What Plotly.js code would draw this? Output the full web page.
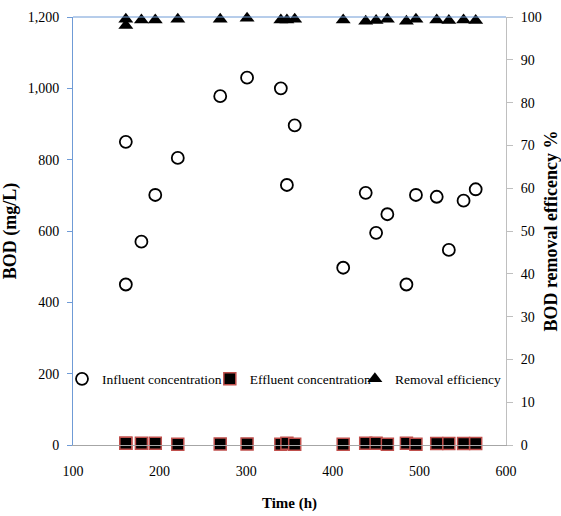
<!DOCTYPE html>
<html>
<head>
<meta charset="utf-8">
<script src="https://cdn.plot.ly/plotly-3.0.1.min.js"></script>
<style>html,body{margin:0;padding:0;background:#fff;}#chart{width:561px;height:516px;}</style>
</head>
<body>
<div id="chart"></div>
<script>
// Data
const timeH = [161, 161, 179, 195, 221, 270, 301, 340, 347, 356, 412, 438, 450, 463, 485, 496, 520, 534, 551, 565];
const influentBOD = [850, 450, 570, 701, 805, 978, 1030, 1000, 729, 896, 497, 707, 595, 647, 450, 701, 696, 547, 685, 717];
const effluentBOD = [5, 5, 5, 5, 2, 3, 3, 2, 5, 2, 2, 5, 5, 2, 5, 2, 4, 4, 4, 4];
const removalPct = [99.5, 98.0, 99.3, 99.3, 99.5, 99.5, 99.7, 99.3, 99.3, 99.5, 99.3, 99.0, 99.2, 99.5, 99.0, 99.5, 99.3, 99.2, 99.3, 99.2];
const seriesNames = ['Influent concentration', 'Effluent concentration', 'Removal efficiency'];

const serif = "'Liberation Serif', 'Times New Roman', serif";
const blue = '#6f9bd6';

const traces = [
  {x: timeH, y: influentBOD, name: seriesNames[0], type: 'scatter', mode: 'markers', cliponaxis: false, legend: 'legend',
   marker: {symbol: 'circle-open', size: 12, color: '#000', line: {width: 1.8, color: '#000'}}},
  {x: timeH, y: effluentBOD, name: seriesNames[1], type: 'scatter', mode: 'markers', cliponaxis: false, legend: 'legend2',
   marker: {symbol: 'square', size: 12, color: '#000', line: {width: 1.5, color: '#c0504d'}}},
  {x: timeH, y: removalPct, name: seriesNames[2], type: 'scatter', mode: 'markers', yaxis: 'y2', cliponaxis: false, legend: 'legend3',
   marker: {symbol: 'triangle-up', size: 13, color: '#000'}}
];

const legendBase = {orientation: 'h', xanchor: 'left', y: 0.154, yanchor: 'middle',
  bgcolor: 'rgba(0,0,0,0)', font: {family: serif, size: 13.5, color: '#000'}, itemwidth: 30};

const layout = {
  width: 561, height: 516,
  margin: {l: 73, r: 55, t: 17, b: 71},
  paper_bgcolor: '#fff', plot_bgcolor: '#fff',
  font: {family: serif, size: 14, color: '#000'},
  showlegend: true,
  legend: Object.assign({}, legendBase, {x: -0.0254}),
  legend2: Object.assign({}, legendBase, {x: 0.316}),
  legend3: Object.assign({}, legendBase, {x: 0.651}),
  xaxis: {range: [100, 600], tick0: 100, dtick: 100, showgrid: false, zeroline: false,
          showline: true, linecolor: '#a6a6a6', linewidth: 1, ticks: '',
          ticklabelstandoff: 13, tickfont: {family: serif, size: 14, color: '#000'},
          title: {text: 'Time (h)', font: {family: serif, size: 15, weight: 'bold', color: '#000'}, standoff: 19}},
  yaxis: {range: [0, 1200], dtick: 200, tickformat: ',d', showgrid: false, zeroline: false,
          showline: true, linecolor: blue, linewidth: 1, ticks: 'outside', ticklen: 5, tickcolor: blue,
          ticklabelstandoff: 5, tickfont: {family: serif, size: 14, color: '#000'},
          title: {text: 'BOD (mg/L)', font: {family: serif, size: 18, weight: 'bold', color: '#000'}, standoff: 7}},
  yaxis2: {range: [0, 100], dtick: 10, overlaying: 'y', side: 'right', showgrid: false, zeroline: false,
           showline: true, linecolor: '#bfbfbf', linewidth: 1, ticks: 'outside', ticklen: 6, tickcolor: '#bfbfbf',
           ticklabelstandoff: 5, tickfont: {family: serif, size: 14, color: '#000'},
           title: {text: 'BOD removal efficency %', font: {family: serif, size: 18, weight: 'bold', color: '#000'}, standoff: 12}},
  shapes: [{type: 'line', xref: 'paper', yref: 'paper', x0: 0, x1: 1, y0: 1, y1: 1, line: {color: blue, width: 1}}]
};

Plotly.newPlot('chart', traces, layout, {displayModeBar: false, staticPlot: true});
</script>
</body>
</html>
